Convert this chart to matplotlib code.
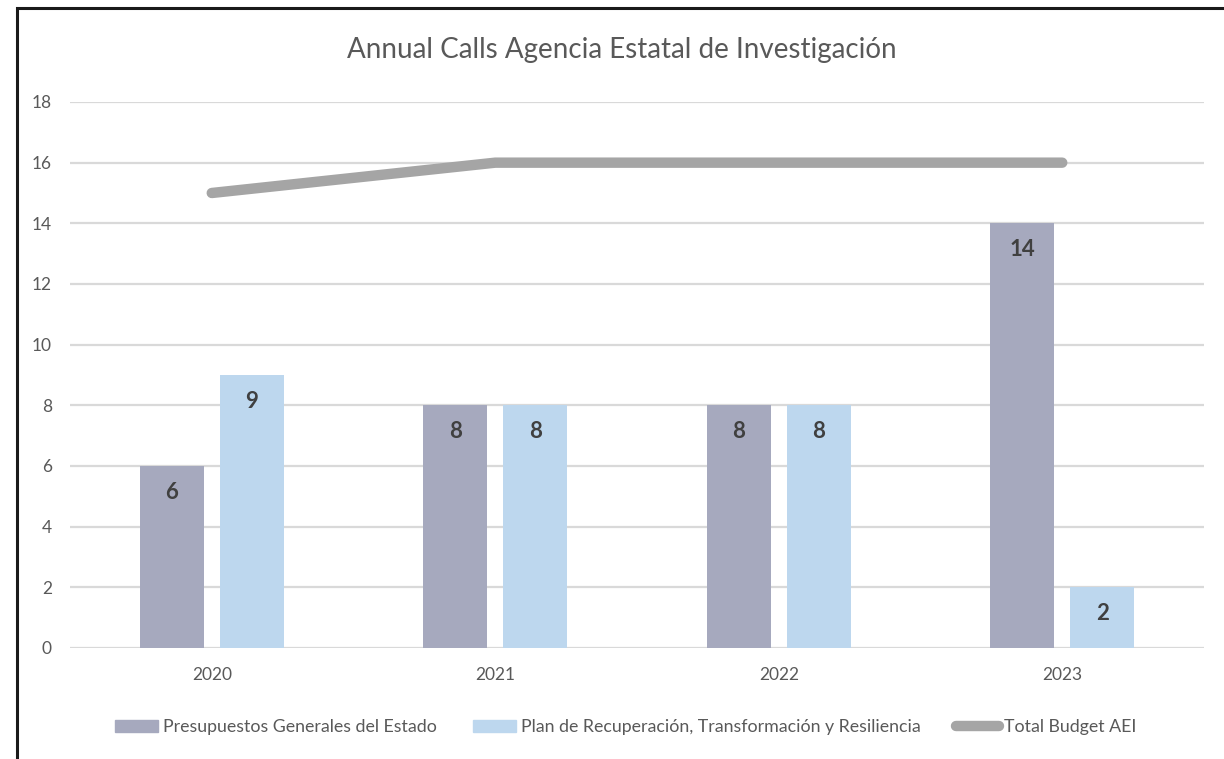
import matplotlib
matplotlib.use("Agg")
import matplotlib.pyplot as plt
from matplotlib.patches import Rectangle
from matplotlib.lines import Line2D
from matplotlib.patches import Patch
import numpy as np

plt.rcParams['font.family'] = ['Lato', 'DejaVu Sans']

years = ["2020", "2021", "2022", "2023"]
pge = [6, 8, 8, 14]
prtr = [9, 8, 8, 2]
total = [15, 16, 16, 16]

series_names = ["Presupuestos Generales del Estado",
                "Plan de Recuperación, Transformación y Resiliencia",
                "Total Budget AEI"]
title = "Annual Calls Agencia Estatal de Investigación"

c_pge = "#A6A9BE"
c_prtr = "#BDD7EE"
c_total = "#A5A5A5"
c_text = "#595959"

fig = plt.figure(figsize=(12.24, 7.59), dpi=100)
ax = fig.add_axes([70 / 1224, 1 - 648 / 759, 1134 / 1224, (648 - 102) / 759])

# outer frame (only left and top edges visible)
fig.patches.append(Rectangle((17 / 1224, -0.05), 1.2, 1 - 8 / 759 + 0.05,
                             transform=fig.transFigure, fill=False,
                             edgecolor="#1a1a1a", linewidth=2.2))

x = np.arange(len(years))
w = 0.226
off = 0.141
b1 = ax.bar(x - off, pge, w, color=c_pge, zorder=3)
b2 = ax.bar(x + off, prtr, w, color=c_prtr, zorder=3)
ax.plot(x, total, color=c_total, linewidth=7.5, solid_capstyle="round", zorder=4)

for bars, vals in ((b1, pge), (b2, prtr)):
    for rect, v in zip(bars, vals):
        ax.text(rect.get_x() + rect.get_width() / 2, v - 0.87, str(v),
                ha="center", va="center", fontsize=16, fontweight="bold",
                color="#404040", zorder=5)

ax.set_xlim(-0.5, 3.5)
ax.set_ylim(0, 18)
ax.set_yticks(range(0, 19, 2))
ax.set_xticks(x)
ax.set_xticklabels(years)
ax.grid(axis="y", color="#D9D9D9", linewidth=1.6, zorder=0)
ax.set_axisbelow(True)
for s in ax.spines.values():
    s.set_visible(False)
ax.tick_params(length=0, labelsize=12.5, labelcolor=c_text)
ax.tick_params(axis="y", pad=13)
ax.tick_params(axis="x", pad=14)

fig.text(622 / 1224, 1 - 50 / 759, title, ha="center", va="center",
         fontsize=20, color=c_text)

handles = [Patch(color=c_pge), Patch(color=c_prtr),
           Line2D([0], [0], color=c_total, linewidth=7.5, solid_capstyle="round")]
fig.legend(handles, series_names, loc="center", bbox_to_anchor=(626 / 1224, 1 - 727 / 759),
           ncol=3, frameon=False, fontsize=12.8, labelcolor=c_text,
           handlelength=2.4, handleheight=0.7, handletextpad=0.3, columnspacing=2.0)

fig.savefig("out.png", dpi=100)
